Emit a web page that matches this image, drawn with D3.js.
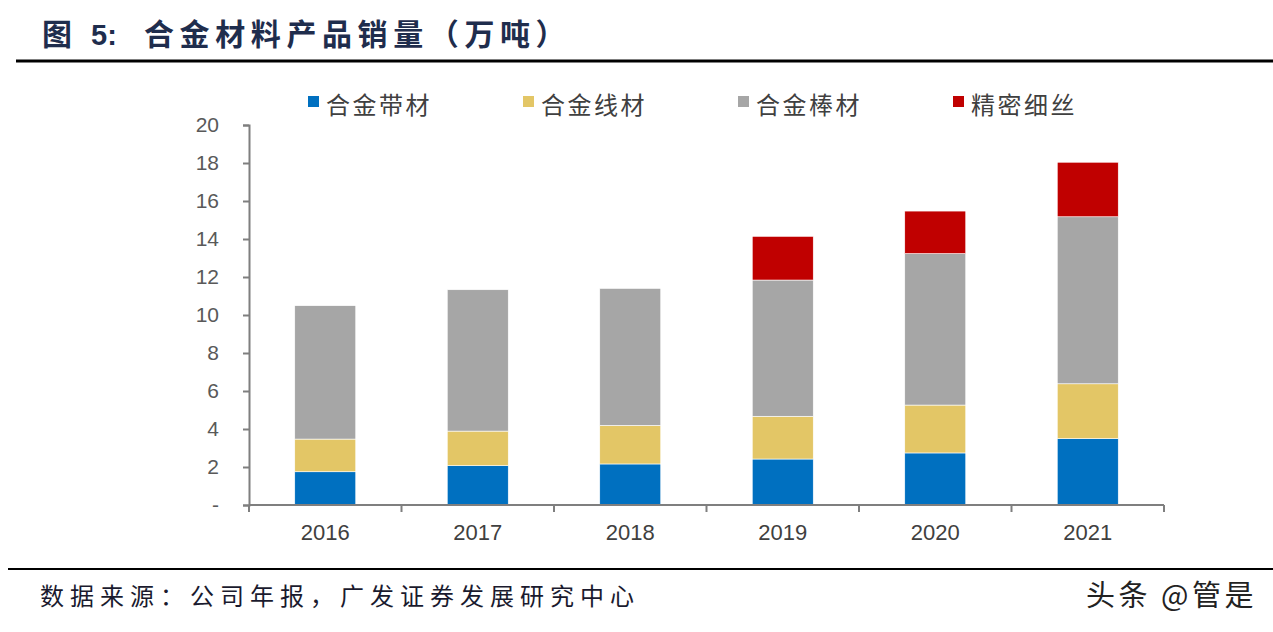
<!DOCTYPE html>
<html><head><meta charset="utf-8">
<script src="https://cdn.jsdelivr.net/npm/d3@7"></script>
<style>body{margin:0;background:#fff;}svg{display:block;}</style>
</head><body>
<script>
const years = ["2016","2017","2018","2019","2020","2021"];
const seriesNames = ["合金带材","合金线材","合金棒材","精密细丝"];
const seriesColors = ["#0070C0","#E3C666","#A6A6A6","#C00000"];
const stripValues = [1.75,2.07,2.16,2.42,2.74,3.49];
const wireValues  = [1.72,1.82,2.03,2.25,2.52,2.89];
const rodValues   = [7.02,7.44,7.21,7.17,7.97,8.79];
const fineValues  = [0,0,0,2.30,2.24,2.87];
const yTicks = [0,2,4,6,8,10,12,14,16,18,20];
const titleParts = ["图","5:","合金材料产品销量（万吨）"];
const sourceText = "数据来源：公司年报，广发证券发展研究中心";
const watermark = "头条 @管是";

const W = 1273, H = 632;
const svg = d3.select("body").append("svg").attr("width", W).attr("height", H);

const rows = years.map((y,i)=>({year:y, s0:stripValues[i], s1:wireValues[i], s2:rodValues[i], s3:fineValues[i]}));
const keys = ["s0","s1","s2","s3"];
const stacked = d3.stack().keys(keys)(rows);

const x = d3.scaleBand().domain(years).range([249,1164]).paddingInner(0.6).paddingOuter(0.3);
const xb = d3.scaleBand().domain(years).range([249,1164]);
const y = d3.scaleLinear().domain([0,20]).range([505,125]);

// title
const titleX = [42,91,144];
svg.append("g").selectAll("text").data(titleParts).join("text")
  .attr("x",(d,i)=>titleX[i]).attr("y",45).text(d=>d)
  .attr("font-family",(d,i)=>i===1?"Arial, 'Liberation Sans'":"'Noto Sans CJK SC'")
  .attr("font-weight","bold").attr("font-size",(d,i)=>i===1?29:30)
  .attr("letter-spacing",(d,i)=>i===2?5.6:0).attr("fill","#1F2D4D");
svg.append("line").attr("x1",16).attr("x2",W).attr("y1",61).attr("y2",61).attr("stroke","#000").attr("stroke-width",3);

// bars
svg.append("g").selectAll("g").data(stacked).join("g")
  .attr("fill",(d,i)=>seriesColors[i])
  .selectAll("rect").data(d=>d.filter(p=>p[1]-p[0]>0)).join("rect")
  .attr("x",d=>x(d.data.year)).attr("width",x.bandwidth())
  .attr("y",d=>y(d[1])).attr("height",d=>y(d[0])-y(d[1]))
  .attr("stroke","#fff").attr("stroke-width",0.6);

// y axis
const yAxis = d3.axisLeft(y).tickValues(yTicks).tickSize(6).tickPadding(24)
  .tickFormat(d=>d===0?"-":d);
const gy = svg.append("g").attr("transform","translate(249,0)").call(yAxis);
gy.select(".domain").attr("stroke","#7f7f7f").attr("stroke-width",2);
gy.selectAll(".tick line").attr("stroke","#7f7f7f").attr("stroke-width",2);
gy.selectAll(".tick text").attr("font-family","Arial, 'Liberation Sans'").attr("font-size",21).attr("fill","#595959");

// x axis
const gx = svg.append("g").attr("transform","translate(0,505)");
gx.append("line").attr("x1",249).attr("x2",1164).attr("stroke","#7f7f7f").attr("stroke-width",2);
gx.selectAll("line.t").data(years.concat(["end"])).join("line").attr("class","t")
  .attr("x1",(d,i)=>i<years.length?xb(d):xb.range()[1]).attr("x2",(d,i)=>i<years.length?xb(d):xb.range()[1])
  .attr("y1",0).attr("y2",7).attr("stroke","#7f7f7f").attr("stroke-width",2);
gx.selectAll("text").data(years).join("text")
  .attr("x",d=>xb(d)+xb.bandwidth()/2).attr("y",35).attr("text-anchor","middle")
  .attr("font-family","Arial, 'Liberation Sans'").attr("font-size",22).attr("fill","#404040").text(d=>d);

// legend
const legX = [308,523,738,953];
const lg = svg.append("g").selectAll("g").data(seriesNames).join("g")
  .attr("transform",(d,i)=>`translate(${legX[i]},0)`);
lg.append("rect").attr("x",0).attr("y",96).attr("width",11).attr("height",11).attr("fill",(d,i)=>seriesColors[i]);
lg.append("text").attr("x",18).attr("y",114).text(d=>d)
  .attr("font-family","'Noto Sans CJK SC'").attr("font-size",24).attr("letter-spacing",2.5).attr("fill","#404040");

// footer
svg.append("line").attr("x1",8).attr("x2",W).attr("y1",569).attr("y2",569).attr("stroke","#000").attr("stroke-width",2);
svg.append("text").attr("x",40).attr("y",605).text(sourceText)
  .attr("font-family","'Noto Sans CJK SC'").attr("font-size",24).attr("letter-spacing",6).attr("fill","#1a1a2e");
svg.append("text").attr("x",1086).attr("y",606).text(watermark)
  .attr("font-family","'Noto Sans CJK SC'").attr("font-size",29).attr("letter-spacing",3.5).attr("fill","#222");
</script>
</body></html>
